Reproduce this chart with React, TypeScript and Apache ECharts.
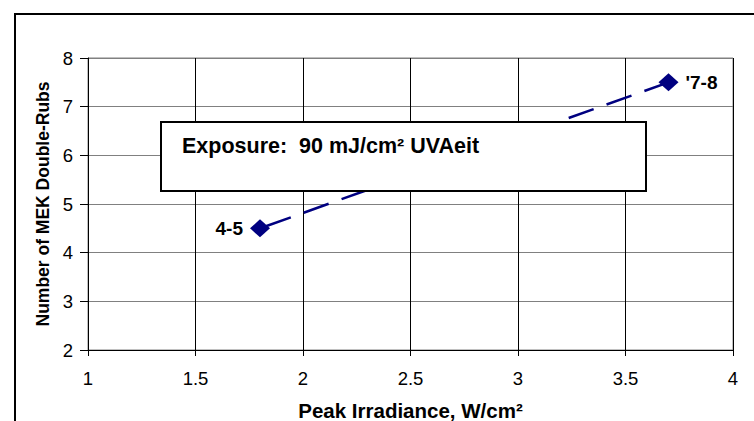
import React, { useEffect, useRef } from "react";
import * as echarts from "echarts";

const irradiance = [1.8, 3.7];
const doubleRubs = [4.5, 7.5];
const pointLabels = ["4-5", "'7-8"];
const labelSides = ["left", "right"];
const xTitle = "Peak Irradiance, W/cm²";
const yTitle = "Number of MEK Double-Rubs";
const boxText = "Exposure:  90 mJ/cm² UVAeit";

const FONT = "Arial, 'Liberation Sans', sans-serif";

export default function App() {
  const ref = useRef<HTMLDivElement>(null);
  useEffect(() => {
    if (!ref.current) return;
    const chart = echarts.init(ref.current, null, { renderer: "svg" });
    const data = irradiance.map((x, i) => ({
      value: [x, doubleRubs[i]],
      name: pointLabels[i],
      label: { position: labelSides[i] as any },
    }));
    chart.setOption({
      animation: false,
      backgroundColor: "#ffffff",
      grid: {
        left: 88,
        right: 21,
        top: 58,
        bottom: 71,
        containLabel: false,
        outerBoundsMode: "none",
        show: true,
        borderColor: "#808080",
        borderWidth: 1,
      },
      xAxis: {
        type: "value",
        min: 1,
        max: 4,
        interval: 0.5,
        name: xTitle,
        nameLocation: "middle",
        nameGap: 50,
        nameTextStyle: { fontFamily: FONT, fontWeight: "bold", fontSize: 20.5, color: "#000" },
        axisLine: { show: true, onZero: false, lineStyle: { color: "#000", width: 1 } },
        axisTick: { show: true, inside: false, length: 6, lineStyle: { color: "#000" } },
        axisLabel: { margin: 19, fontFamily: FONT, fontSize: 18.5, color: "#000" },
        splitLine: { show: true, lineStyle: { color: "#000", width: 1 } },
      },
      yAxis: {
        type: "value",
        min: 2,
        max: 8,
        interval: 1,
        name: yTitle,
        nameLocation: "middle",
        nameGap: 36,
        nameTextStyle: { fontFamily: FONT, fontWeight: "bold", fontSize: 17.5, color: "#000" },
        axisLine: { show: true, onZero: false, lineStyle: { color: "#000", width: 1 } },
        axisTick: { show: true, inside: false, length: 8, lineStyle: { color: "#000" } },
        axisLabel: { margin: 15, fontFamily: FONT, fontSize: 18.5, color: "#000" },
        splitLine: { show: true, lineStyle: { color: "#808080", width: 1 } },
      },
      series: [
        {
          type: "line",
          data,
          symbol: "diamond",
          symbolSize: [20, 18],
          itemStyle: { color: "#000080" },
          lineStyle: { color: "#000080", width: 2.5, type: [26.5, 13.7], dashOffset: 34 },
          label: {
            show: true,
            formatter: "{b}",
            fontFamily: FONT,
            fontWeight: "bold",
            fontSize: 19,
            color: "#000",
            distance: 7,
          },
          z: 3,
        },
      ],
      graphic: [
        {
          type: "rect",
          z: 100,
          shape: { x: 15, y: 14, width: 900, height: 600 },
          style: { fill: "none", stroke: "#000", lineWidth: 2 },
          silent: true,
        },
        {
          type: "rect",
          z: 100,
          shape: { x: 161, y: 122, width: 485, height: 69 },
          style: { fill: "#fff", stroke: "#000", lineWidth: 2 },
        },
        {
          type: "text",
          z: 101,
          x: 182,
          y: 146,
          style: {
            text: boxText,
            fontFamily: FONT,
            fontWeight: "bold",
            fontSize: 21.5,
            fill: "#000",
            verticalAlign: "middle",
          },
        },
      ],
    });
    return () => chart.dispose();
  }, []);
  return (
    <div
      ref={ref}
      style={{ position: "absolute", left: 0, top: 0, width: 754, height: 421 }}
    />
  );
}
